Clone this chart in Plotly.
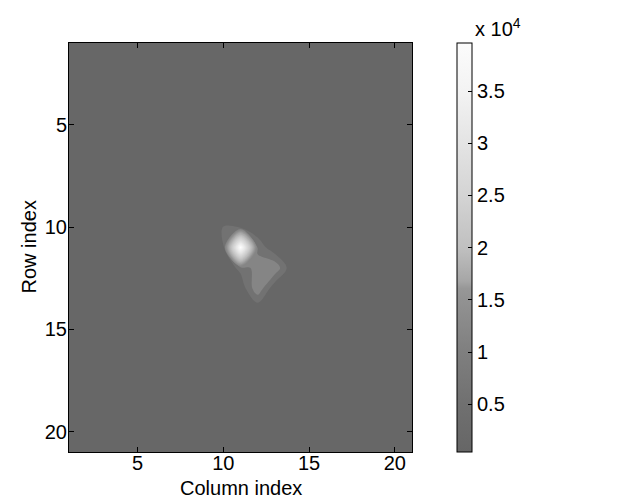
import numpy as np
import plotly.graph_objects as go

# ---------------- data ----------------
n_rows = 21
n_cols = 21
background_value = 430          # minimum of the colour bar
peak_rows = [10, 11, 11, 12, 12, 12, 13]
peak_cols = [10, 11, 12, 11, 12, 13, 12]
peak_values = [2100, 39600, 3500, 2600, 5000, 5600, 5600]
z_min = 430
z_max = 39600

x_ticks = [5, 10, 15, 20]
y_ticks = [5, 10, 15, 20]
cbar_tickvals = [5000, 10000, 15000, 20000, 25000, 30000, 35000]
cbar_ticktext = ["0.5", "1", "1.5", "2", "2.5", "3", "3.5"]

# colour bar map (value -> grey level)
cbar_vals = [430, 5000, 10000, 15000, 16100, 16800, 20000, 25000, 30000, 35000, 39600]
cbar_grey = [102, 112, 127, 146, 151, 166, 192, 212, 228, 243, 252]

# fill colours of the contour bands (band mid value -> grey level)
band_vals = [1000, 3000, 5000, 7000, 9000, 11000, 15000, 20000, 25000, 30000, 35000, 39000]
band_grey = [103, 114, 133, 139, 148, 160, 180, 200, 215, 230, 243, 254]

# ---------------- layout geometry (pixels) ----------------
W, H = 627, 500
PL, PR, PT, PB = 61, 404, 35, 444        # plot box
CB_L, CB_W = 449, 15                      # colour bar

# ---------------- build figure ----------------
Z = np.full((n_rows, n_cols), float(background_value))
for r, c, v in zip(peak_rows, peak_cols, peak_values):
    Z[r - 1, c - 1] = v
xs = list(range(1, n_cols + 1))
ys = list(range(1, n_rows + 1))

def grey(g):
    g = int(round(g))
    return f"rgb({g},{g},{g})"

cbar_scale = [[(v - z_min) / (z_max - z_min), grey(g)] for v, g in zip(cbar_vals, cbar_grey)]
cbar_scale[0][0] = 0.0
cbar_scale[-1][0] = 1.0

c_start, c_size, c_end = 2000, 2000, 38000
nc = int((c_end - c_start) / c_size) + 1
contour_scale = []
for k in range(nc + 1):
    mid = c_start - c_size / 2 + k * c_size
    contour_scale.append([k / nc, grey(np.interp(mid, band_vals, band_grey))])

FONT = "Liberation Sans, Arial, Helvetica, sans-serif"
FS = 20
pw = PR - PL
ph = PB - PT
tfont = dict(family=FONT, size=FS, color="black")

fig = go.Figure()
fig.add_trace(go.Heatmap(
    z=Z, x=xs, y=ys, zmin=z_min, zmax=z_max, colorscale=cbar_scale,
    hoverinfo="skip",
    colorbar=dict(
        x=(CB_L - PL) / pw, xanchor="left", xpad=0, ypad=0,
        y=0.5, yanchor="middle", len=ph, lenmode="pixels",
        thickness=CB_W, thicknessmode="pixels",
        outlinewidth=1, outlinecolor="black",
        tickvals=cbar_tickvals, ticktext=cbar_ticktext,
        ticks="inside", ticklen=4, tickcolor="black", tickwidth=1,
        tickfont=tfont,
    ),
))
fig.add_trace(go.Contour(
    z=Z, x=xs, y=ys,
    autocontour=False,
    contours=dict(start=c_start, end=c_end, size=c_size, coloring="fill", showlines=False),
    line=dict(width=0),
    colorscale=contour_scale,
    showscale=False,
    hoverinfo="skip",
))

axis_common = dict(
    showgrid=False, zeroline=False, showline=True, linecolor="black", linewidth=1,
    mirror="ticks", ticks="inside", ticklen=5, tickcolor="black", tickwidth=1,
    tickfont=tfont, automargin=False,
)
fig.update_xaxes(range=[1, 21], tickvals=x_ticks, ticklabelstandoff=-7, **axis_common)
fig.update_yaxes(range=[21, 1], tickvals=y_ticks, ticklabelstandoff=-3, **axis_common)

# axis labels
fig.add_annotation(x=0.5, y=-(468 - PB) / ph, xref="paper", yref="paper",
                   xanchor="center", yanchor="top", showarrow=False, borderpad=0,
                   text="Column index", font=tfont)
fig.add_annotation(x=-(PL - 20) / pw, y=0.5, xref="paper", yref="paper",
                   xanchor="center", yanchor="middle", showarrow=False, textangle=-90,
                   text="Row index", font=tfont)

# tick marks on the left side of the colour bar (MATLAB style, both sides)
cb_x0 = (CB_L - PL) / pw
for v in cbar_tickvals:
    yy = (v - z_min) / (z_max - z_min)
    fig.add_shape(type="line", xref="paper", yref="paper",
                  x0=cb_x0, x1=cb_x0 + 4 / pw, y0=yy, y1=yy,
                  line=dict(color="black", width=1))

fig.add_annotation(x=(CB_L + CB_W + 2 - PL) / pw, y=(PB - 33) / ph, xref="paper", yref="paper",
                   xanchor="left", yanchor="bottom", showarrow=False, borderpad=0,
                   text="x 10<sup>4</sup>", font=tfont)

fig.update_layout(
    width=W, height=H,
    margin=dict(l=PL, r=W - PR, t=PT, b=H - PB, autoexpand=False),
    paper_bgcolor="white", plot_bgcolor="white",
    showlegend=False,
)
fig.write_html("out.html")
